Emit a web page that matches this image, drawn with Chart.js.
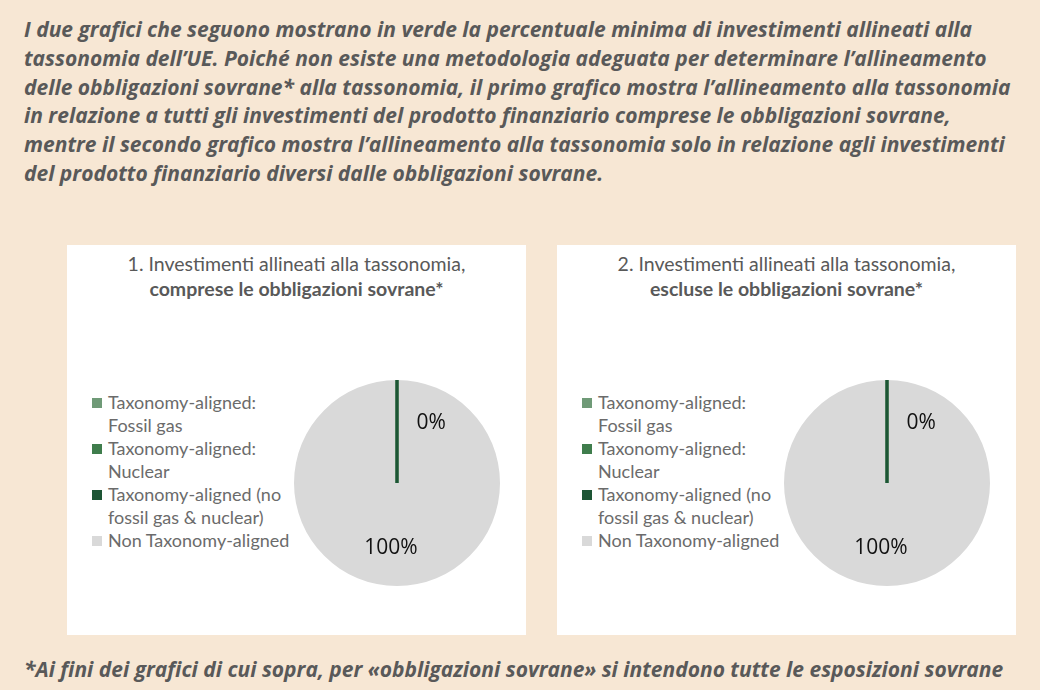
<!DOCTYPE html>
<html>
<head>
<meta charset="utf-8">
<script src="https://cdn.jsdelivr.net/npm/chart.js@4.4.1/dist/chart.umd.min.js"></script>
<style>
  body {
    margin: 0;
    width: 1040px;
    height: 690px;
    background: #f7e7d4;
    font-family: "Open Sans", sans-serif;
    position: relative;
    overflow: hidden;
  }
  .note {
    position: absolute;
    left: 24px;
    color: #595959;
    font-weight: 700;
    font-style: italic;
    font-size: 21px;
    line-height: 28.8px;
    white-space: nowrap;
  }
  .panel {
    position: absolute;
    top: 245px;
    width: 459px;
    height: 390px;
    background: #fff;
  }
  .ptitle {
    position: absolute;
    left: 0;
    right: 0;
    top: 6px;
    text-align: center;
    color: #595959;
    font-family: Lato, sans-serif;
    font-size: 19.5px;
    line-height: 25px;
  }
  .ptitle b { font-weight: 700; }
  .legend {
    position: absolute;
    left: 25px;
    top: 146px;
    margin: 0;
    padding: 0;
    list-style: none;
    color: #6b6b6b;
    font-family: Lato, sans-serif;
    font-size: 18px;
    line-height: 23px;
  }
  .legend li { position: relative; padding-left: 16px; }
  .legend span {
    position: absolute;
    left: 0;
    top: 7px;
    width: 10px;
    height: 10px;
  }
  .panel canvas { position: absolute; left: 215px; top: 123px; }
</style>
</head>
<body>

<div class="note" style="top:15px">
  I due grafici che seguono mostrano in verde la percentuale minima di investimenti allineati alla<br>
  tassonomia dell’UE. Poiché non esiste una metodologia adeguata per determinare l’allineamento<br>
  delle obbligazioni sovrane* alla tassonomia, il primo grafico mostra l’allineamento alla tassonomia<br>
  in relazione a tutti gli investimenti del prodotto finanziario comprese le obbligazioni sovrane,<br>
  mentre il secondo grafico mostra l’allineamento alla tassonomia solo in relazione agli investimenti<br>
  del prodotto finanziario diversi dalle obbligazioni sovrane.
</div>

<div class="panel" style="left:67px">
  <div class="ptitle">1. Investimenti allineati alla tassonomia,<br><b>comprese le obbligazioni sovrane*</b></div>
  <ul class="legend" id="legend1"></ul>
  <canvas id="chart1" width="230" height="230"></canvas>
</div>

<div class="panel" style="left:557px">
  <div class="ptitle">2. Investimenti allineati alla tassonomia,<br><b>escluse le obbligazioni sovrane*</b></div>
  <ul class="legend" id="legend2"></ul>
  <canvas id="chart2" width="230" height="230"></canvas>
</div>

<div class="note" style="top:655px">
  *Ai fini dei grafici di cui sopra, per «obbligazioni sovrane» si intendono tutte le esposizioni sovrane
</div>

<script>
// categories (legend lines already split where they wrap)
var categories = [
    ["Taxonomy-aligned:", "Fossil gas"],
    ["Taxonomy-aligned:", "Nuclear"],
    ["Taxonomy-aligned (no", "fossil gas & nuclear)"],
    ["Non Taxonomy-aligned"]
];
var colors = ["#6f9a77", "#3f7d4c", "#1d5535", "#d9d9d9"];

// % of investments
var withSovereigns = [0, 0, 0, 100];
var withoutSovereigns = [0, 0, 0, 100];

// which slices get a % label (only one of the stacked 0% ones)
var showLabel = [false, false, true, true];

// chart.js skips arcs with zero circumference, so draw those as a radius line,
// then put the % labels on top
var pieLabels = {
    id: "pieLabels",
    afterDatasetsDraw: function(chart) {
        var ctx = chart.ctx;
        var arcs = chart.getDatasetMeta(0).data;
        var values = chart.data.datasets[0].data;
        var total = values.reduce(function(a, b){ return a + b; }, 0);

        ctx.save();
        arcs.forEach(function(arc, i){
            if (values[i] !== 0) return;
            var p = arc.getProps(["x", "y", "startAngle", "outerRadius"], true);
            ctx.strokeStyle = colors[i];
            ctx.lineWidth = 3;
            ctx.beginPath();
            ctx.moveTo(p.x, p.y);
            ctx.lineTo(p.x + Math.cos(p.startAngle) * p.outerRadius,
                       p.y + Math.sin(p.startAngle) * p.outerRadius);
            ctx.stroke();
        });

        ctx.fillStyle = "#111";
        ctx.font = "21px 'Open Sans'";
        ctx.textAlign = "center";
        ctx.textBaseline = "middle";
        arcs.forEach(function(arc, i){
            if (!showLabel[i]) return;
            var p = arc.getProps(["x", "y", "startAngle", "endAngle", "outerRadius"], true);
            var angle, dist;
            if (values[i] === 0) {
                // nudge the label off the line
                angle = p.startAngle + 0.52;
                dist = p.outerRadius * 0.67;
            } else {
                angle = (p.startAngle + p.endAngle) / 2;
                dist = p.outerRadius * 0.63;
            }
            var pct = Math.round(values[i] / total * 100) + "%";
            ctx.fillText(pct, p.x + Math.cos(angle) * dist - (values[i] === 0 ? 0 : 6),
                              p.y + Math.sin(angle) * dist);
        });
        ctx.restore();
    }
};

function makeLegend(id) {
    var ul = document.getElementById(id);
    categories.forEach(function(lines, i){
        var li = document.createElement("li");
        li.innerHTML = '<span style="background:' + colors[i] + '"></span>' + lines.join("<br>");
        ul.appendChild(li);
    });
}

function makePie(id, values) {
    var ctx = document.getElementById(id).getContext("2d");
    return new Chart(ctx, {
        type: "pie",
        data: {
            labels: categories.map(function(l){ return l.join(" "); }),
            datasets: [{
                data: values,
                backgroundColor: colors,
                borderWidth: 0
            }]
        },
        options: {
            responsive: false,
            animation: false,
            layout: { padding: 12 },
            plugins: {
                legend: { display: false },
                tooltip: { enabled: true }
            }
        },
        plugins: [pieLabels]
    });
}

makeLegend("legend1");
makeLegend("legend2");
makePie("chart1", withSovereigns);
makePie("chart2", withoutSovereigns);
</script>
</body>
</html>
